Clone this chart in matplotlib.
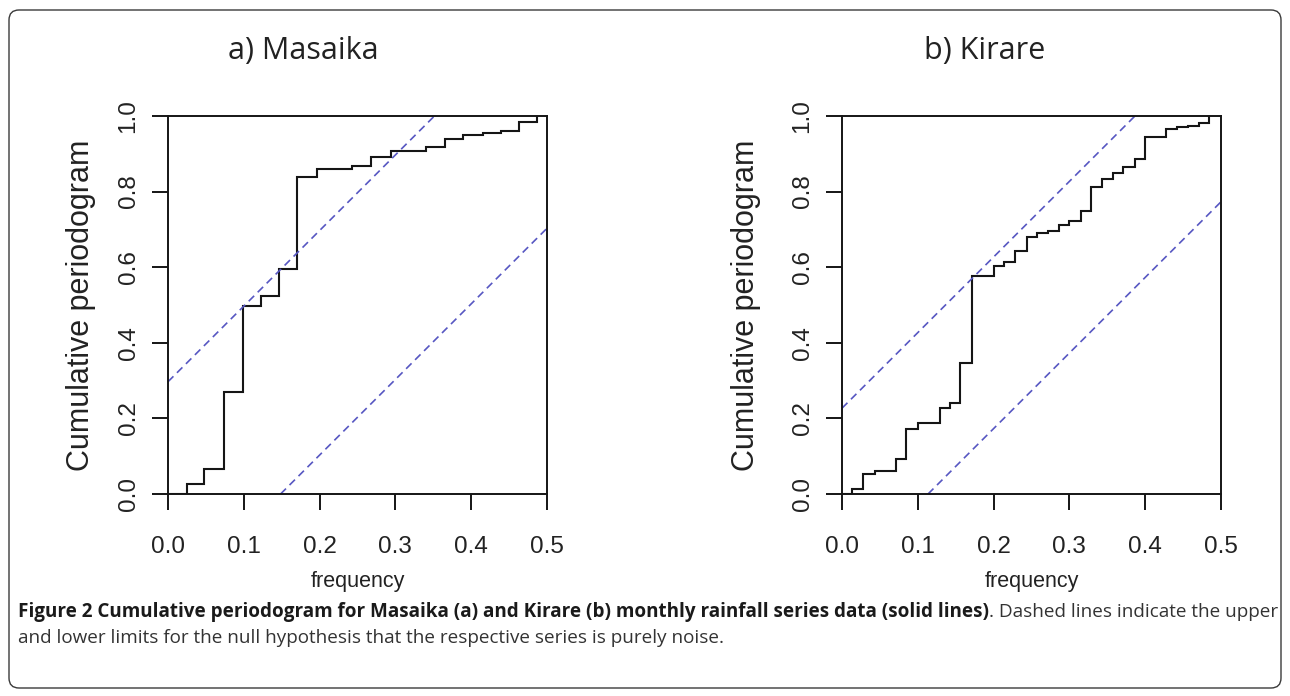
"""Cumulative periodograms for the Masaika and Kirare monthly rainfall series."""

import matplotlib
matplotlib.use("Agg")
import matplotlib.pyplot as plt
from matplotlib.patches import FancyBboxPatch

W, H, DPI = 1290, 696, 100

# step points (frequency, cumulative periodogram)
masaika_freq = [0.0, 0.0247, 0.0479, 0.0743, 0.0985, 0.1222, 0.1464, 0.1697, 0.196,
                0.243, 0.268, 0.294, 0.341, 0.365, 0.389, 0.416, 0.439, 0.463, 0.487]
masaika_cp = [0.0, 0.026, 0.065, 0.271, 0.498, 0.525, 0.594, 0.838, 0.860,
              0.869, 0.891, 0.907, 0.918, 0.938, 0.950, 0.956, 0.960, 0.985, 1.0]
masaika_crit = 0.297

kirare_freq = [0.0, 0.0128, 0.0282, 0.0435, 0.0712, 0.0844, 0.1007, 0.1293, 0.1425,
               0.156, 0.172, 0.201, 0.214, 0.2287, 0.2436, 0.2568, 0.2722, 0.2858,
               0.2999, 0.3153, 0.3285, 0.3434, 0.357, 0.371, 0.3865, 0.400, 0.428,
               0.442, 0.457, 0.471, 0.4846]
kirare_cp = [0.0, 0.012, 0.053, 0.060, 0.092, 0.171, 0.188, 0.228, 0.240,
             0.346, 0.578, 0.603, 0.615, 0.643, 0.681, 0.690, 0.696, 0.712,
             0.721, 0.749, 0.811, 0.833, 0.848, 0.864, 0.885, 0.944, 0.965,
             0.970, 0.974, 0.982, 1.0]
kirare_crit = 0.227

titles = ["a) Masaika", "b) Kirare"]
xticks = [0.0, 0.1, 0.2, 0.3, 0.4, 0.5]
yticks = [0.0, 0.2, 0.4, 0.6, 0.8, 1.0]
FMAX = 0.5

R_FONT = "Liberation Sans"
TEXT = "#222222"


def px(x, y):
    """image pixel (top-left origin) -> figure fraction"""
    return x / W, 1 - y / H


def draw_panel(fig, box, freq, cp, crit, title, title_x, ylab_x):
    x0, y0, x1, y1 = box
    ax = fig.add_axes([x0 / W, 1 - y1 / H, (x1 - x0) / W, (y1 - y0) / H])
    ax.step(freq, cp, where="post", color="#151515", lw=1.5, solid_joinstyle="miter")
    # noise limits, as R's cpgram draws them
    dash = dict(color="#5757c2", lw=1.2, dashes=(4.6, 3.0))
    ax.plot([0, FMAX * (1 - crit)], [crit, 1], **dash)
    ax.plot([FMAX * crit, FMAX], [0, 1 - crit], **dash)
    ax.set_xlim(0, FMAX)
    ax.set_ylim(0, 1)
    ax.set_xticks(xticks)
    ax.set_yticks(yticks)
    ax.set_xticklabels([f"{v:.1f}" for v in xticks])
    ax.set_yticklabels([f"{v:.1f}" for v in yticks], rotation=90, va="center")
    for s in ax.spines.values():
        s.set_linewidth(1.4)
        s.set_color("#151515")
    ax.tick_params(direction="out", length=11.5, width=1.4, color="#151515",
                   labelsize=17.5, labelcolor=TEXT)
    ax.tick_params(axis="x", pad=19)
    ax.tick_params(axis="y", pad=9)
    for lab in ax.get_xticklabels() + ax.get_yticklabels():
        lab.set_family(R_FONT)

    cx = (x0 + x1) / 2
    fig.text(*px(cx, 581), "frequency", ha="center", va="center",
             family=R_FONT, fontsize=15.5, color=TEXT)
    fig.text(*px(ylab_x, (y0 + y1) / 2), "Cumulative periodogram", rotation=90,
             ha="center", va="center", family=R_FONT, fontsize=22, color=TEXT)
    fig.text(*px(title_x, 59), title, ha="left", va="baseline",
             family="Open Sans", fontsize=22, color="#222222")
    return ax


def caption_line(fig, y, pieces, x0, x1=None, size=12.5):
    """Lay out a caption line from (text, weight, colour) pieces; stretch to x1."""
    renderer = fig.canvas.get_renderer()
    texts = [fig.text(0, 0, s, fontsize=size, fontweight=w, color=c,
                      family="Open Sans", va="baseline", ha="left")
             for s, w, c in pieces]

    def layout():
        x = x0
        for t in texts:
            t.set_position(px(x, y))
            x += t.get_window_extent(renderer).width
        return x - x0

    total = layout()
    if x1 is not None:
        scale = (x1 - x0) / total
        for t in texts:
            t.set_fontsize(size * scale)
        layout()
    return texts


def main():
    fig = plt.figure(figsize=(W / DPI, H / DPI), dpi=DPI)
    fig.patch.set_facecolor("white")

    frame = FancyBboxPatch((9, 8), 1272, 678, boxstyle="round,pad=0,rounding_size=10",
                           transform=None, facecolor="none", edgecolor="#3a3a3a", lw=1.0)
    fig.patches.append(frame)

    draw_panel(fig, (168, 116, 547, 494), masaika_freq, masaika_cp, masaika_crit,
               titles[0], 228, 81)
    draw_panel(fig, (842, 116, 1221, 494), kirare_freq, kirare_cp, kirare_crit,
               titles[1], 924, 746)

    caption_line(fig, 617, [
        ("Figure 2 Cumulative periodogram for Masaika (a) and Kirare (b) monthly "
         "rainfall series data (solid lines)", "bold", "#1a1a1a"),
        (". Dashed lines indicate the upper", "normal", "#333333"),
    ], 18, 1275)
    line1 = fig.texts[-1].get_fontsize()
    caption_line(fig, 643, [
        ("and lower limits for the null hypothesis that the respective series is "
         "purely noise.", "normal", "#333333"),
    ], 18, size=line1)

    fig.savefig("out.png", dpi=DPI)


if __name__ == "__main__":
    main()
